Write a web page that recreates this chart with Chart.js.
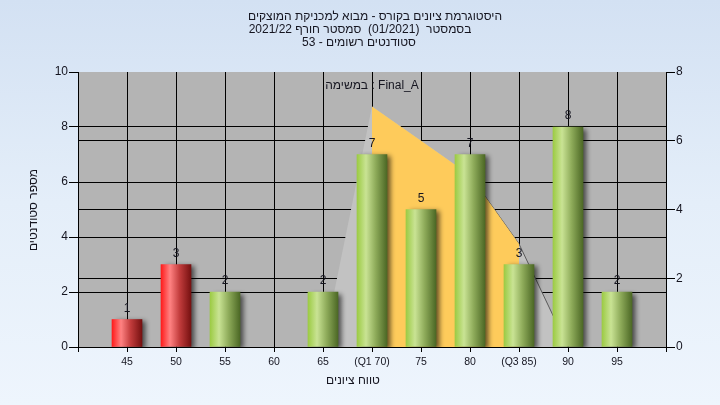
<!DOCTYPE html>
<html>
<head>
<meta charset="utf-8">
<script src="https://cdn.jsdelivr.net/npm/chart.js@4.4.1/dist/chart.umd.min.js"></script>
<style>
    html, body { margin: 0; padding: 0; }
    body {
        width: 720px; height: 405px; overflow: hidden;
        background: linear-gradient(to bottom, #d3e1f3 0%, #e4eef9 50%, #eef5fd 100%);
    }
    #wrap { width: 720px; height: 405px; position: relative; }
</style>
</head>
<body>
<div id="wrap"><canvas id="histChart" width="720" height="405"></canvas></div>
<script>
const grades = [45, 50, 55, 60, 65, 70, 75, 80, 85, 90, 95];
const tickLabels = ['45', '50', '55', '60', '65', '(Q1 70)', '75', '80', '(Q3 85)', '90', '95'];
const studentCounts = [1, 3, 2, 0, 2, 7, 5, 7, 3, 8, 2];
const curveValues = [null, null, null, null, 0, 7, 6, 5, 3, 0, null];
const q1Grade = 70;
const q3Grade = 85;
const passGrade = 55;

const titleLines = [
    'היסטוגרמת ציונים בקורס - מבוא למכניקת המוצקים',
    'בסמסטר  (01/2021)  סמסטר חורף 2021/22',
    'סטודנטים רשומים - 53'
];
const taskText = 'במשימה : Final_A';
const yTitle = 'מספר סטודנטים';
const xTitle = 'טווח ציונים';

const FONT = "'Liberation Sans', Arial, sans-serif";
const TEXT = '#151520';

// empty slot on both ends so the axis runs 40..100
const labels = [''].concat(tickLabels, ['']);
const paddedGrades = [null].concat(grades, [null]);
const barData = [null].concat(studentCounts, [null]);
const curveData = [null].concat(curveValues, [null]);
const quartileData = curveData.map((v, i) => {
    const g = paddedGrades[i];
    return (g !== null && g >= q1Grade && g <= q3Grade) ? v : null;
});

const greenStops = [[0, '#9ccb44'], [0.3, '#c9e394'], [0.62, '#8eab5a'], [1, '#4c6825']];
const redStops = [[0, '#ff1c1c'], [0.3, '#ff8282'], [0.62, '#c23c3c'], [1, '#761010']];

function barFill(c) {
    const xs = c.chart.scales.x;
    if (!xs || c.dataIndex === undefined) return '#9ccb44';
    if (!barData[c.dataIndex]) return 'rgba(0,0,0,0)';
    const cx = xs.getPixelForValue(c.dataIndex);
    if (!isFinite(cx)) return '#9ccb44';
    const g = c.chart.ctx.createLinearGradient(cx - 15, 0, cx + 15, 0);
    const stops = paddedGrades[c.dataIndex] < passGrade ? redStops : greenStops;
    stops.forEach(s => g.addColorStop(s[0], s[1]));
    return g;
}

const plotBg = {
    id: 'plotBg',
    beforeDraw(chart) {
        const { ctx, chartArea: a } = chart;
        ctx.save();
        ctx.fillStyle = '#b4b4b4';
        ctx.fillRect(a.left, a.top, a.right - a.left, a.bottom - a.top);
        ctx.restore();
    }
};

const barShadow = {
    id: 'barShadow',
    beforeDatasetDraw(chart, args) {
        if (args.index !== 0) return;
        const ctx = chart.ctx;
        ctx.save();
        ctx.shadowColor = 'rgba(0,0,0,0.6)';
        ctx.shadowBlur = 5;
        ctx.shadowOffsetX = 4;
        ctx.shadowOffsetY = 2;
    },
    afterDatasetDraw(chart, args) {
        if (args.index === 0) chart.ctx.restore();
    }
};

const texts = {
    id: 'texts',
    afterDatasetsDraw(chart) {
        const ctx = chart.ctx;
        ctx.save();
        ctx.fillStyle = TEXT;
        ctx.textAlign = 'center';
        ctx.textBaseline = 'middle';

        // counts above bars
        ctx.font = '12px ' + FONT;
        chart.getDatasetMeta(0).data.forEach((el, i) => {
            const v = barData[i];
            if (v) ctx.fillText(String(v), el.x, el.y - 11);
        });

        const titleX = [375, 360, 359];
        titleLines.forEach((t, i) => ctx.fillText(t, titleX[i], 17 + i * 13));
        ctx.fillText(taskText, 372, 86);
        ctx.fillText(xTitle, 353, 381);

        ctx.translate(34, 210);
        ctx.rotate(-Math.PI / 2);
        ctx.fillText(yTitle, 0, 0);
        ctx.restore();
    }
};

new Chart(document.getElementById('histChart'), {
    type: 'bar',
    data: {
        labels: labels,
        datasets: [
            {
                type: 'bar',
                data: barData,
                backgroundColor: barFill,
                barThickness: 30,
                yAxisID: 'y',
                order: 0
            },
            {
                type: 'line',
                data: quartileData,
                yAxisID: 'y1',
                backgroundColor: '#fecb5b',
                borderWidth: 0,
                borderColor: 'rgba(0,0,0,0)',
                pointRadius: 0,
                fill: 'origin',
                tension: 0,
                order: 1
            },
            {
                type: 'line',
                data: curveData,
                yAxisID: 'y1',
                backgroundColor: '#c2c2c2',
                borderWidth: 1,
                borderColor: 'rgba(0,0,0,0)',
                segment: {
                    borderColor: s => s.p0DataIndex >= 8 ? '#5a5a5a' : 'rgba(0,0,0,0)'
                },
                pointRadius: 0,
                fill: 'origin',
                tension: 0,
                order: 2
            }
        ]
    },
    options: {
        responsive: false,
        animation: false,
        layout: { padding: { top: 72, left: 0, right: 0, bottom: 0 } },
        plugins: {
            legend: { display: false },
            title: { display: false },
            tooltip: { enabled: false }
        },
        scales: {
            x: {
                offset: false,
                grid: { offset: false, color: '#000', tickColor: '#000', tickLength: 5 },
                border: { color: '#000' },
                ticks: {
                    color: TEXT, font: { family: FONT, size: 10.5 },
                    maxRotation: 0, autoSkip: false, padding: 4
                },
                afterFit: s => { s.height = 58; }
            },
            y: {
                position: 'left',
                min: 0, max: 10,
                ticks: { stepSize: 2, color: TEXT, font: { family: FONT, size: 12 }, padding: 1 },
                grid: {
                    color: c => c.tick && c.tick.value === 10 ? 'rgba(0,0,0,0)' : '#000',
                    tickColor: '#000', tickLength: 9
                },
                border: { color: '#000' },
                afterFit: s => { s.width = 78; }
            },
            y1: {
                position: 'right',
                min: 0, max: 8,
                ticks: { stepSize: 2, color: TEXT, font: { family: FONT, size: 12 }, padding: 1 },
                grid: {
                    color: c => c.tick && c.tick.value === 8 ? 'rgba(0,0,0,0)' : '#000',
                    tickColor: '#000', tickLength: 9
                },
                border: { color: '#000' },
                afterFit: s => { s.width = 54; }
            }
        }
    },
    plugins: [plotBg, barShadow, texts]
});
</script>
</body>
</html>
